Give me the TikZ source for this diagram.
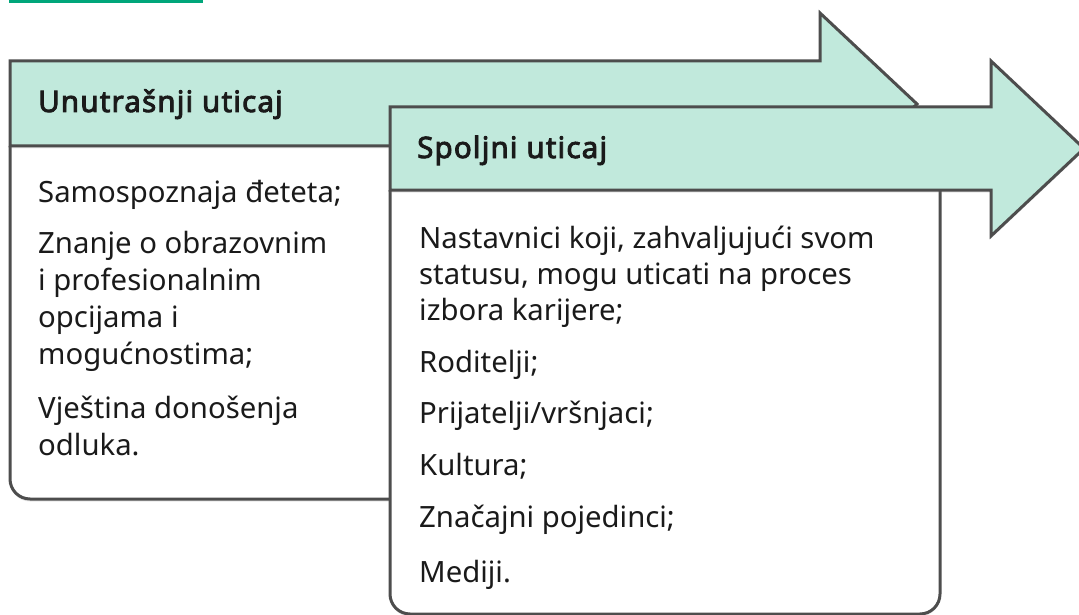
\documentclass[tikz,border=0pt]{standalone}
\usepackage{fontspec}
\setmainfont{Noto Sans}
\newfontfamily\titlefont{Noto Sans}[FakeBold=3,LetterSpace=4]
\usetikzlibrary{shadows}
\definecolor{mint}{HTML}{C1E9DC}
\definecolor{edge}{HTML}{4D4D4D}
\definecolor{topbar}{HTML}{00A67A}
\definecolor{ink}{HTML}{1A1A1A}
\begin{document}
\begin{tikzpicture}[x=1pt,y=-1pt,
  shape line/.style={draw=edge,line width=3pt,line join=miter},
  softshadow/.style={drop shadow={opacity=0.18,shadow xshift=0pt,shadow yshift=-2.5pt}},
  band/.style={shape line,fill=mint,softshadow},
  panel/.style={shape line,fill=white,softshadow},
  txt/.style={anchor=base west,inner sep=0pt,text=ink,font=\fontsize{29.3}{37}\selectfont},
  title/.style={anchor=base west,inner sep=0pt,text=ink,font=\titlefont\fontsize{29.5}{35}\selectfont}]
\useasboundingbox (0,0) rectangle (1079,615);
% top accent bar
\fill[topbar] (9,0) rectangle (203,3.5);
% first arrow: panel and band
\draw[panel] (10,146) [rounded corners=20pt]-- (10,499) [sharp corners]-- (420,499) -- (420,146);
\draw[band] (10,61) -- (820,61) -- (820,13) -- (917,104) -- (820,195) -- (820,146) -- (10,146) -- cycle;
% second arrow: panel and band
\draw[panel] (390,190) [rounded corners=20pt]-- (390,614) -- (940,614) [sharp corners]-- (940,190);
\draw[band] (390,107) -- (991,107) -- (991,61) -- (1084,148.5) -- (991,236) -- (991,190) -- (390,190) -- cycle;
% titles
\node[title] (t1) at (38,112) {Unutrašnji uticaj};
\node[title] (t2) at (417,158) {Spoljni uticaj};
% left texts
\node[txt] (a1) at (38,202) {Samospoznaja đeteta;};
\node[txt] (a2) at (38,253) {Znanje o obrazovnim};
\node[txt] (a3) at (38,290) {i profesionalnim};
\node[txt] (a4) at (38,327) {opcijama i};
\node[txt] (a5) at (38,364) {mogućnostima;};
\node[txt] (a6) at (38,418) {Vještina donošenja};
\node[txt] (a7) at (38,455) {odluka.};
% right texts
\node[txt] (b1) at (419,248) {Nastavnici koji, zahvaljujući svom};
\node[txt] (b2) at (419,284) {statusu, mogu uticati na proces};
\node[txt] (b3) at (419,320) {izbora karijere;};
\node[txt] (b4) at (419,372) {Roditelji;};
\node[txt] (b5) at (419,423) {Prijatelji/vršnjaci;};
\node[txt] (b6) at (419,475) {Kultura;};
\node[txt] (b7) at (419,527) {Značajni pojedinci;};
\node[txt] (b8) at (419,582) {Mediji.};
\end{tikzpicture}
\end{document}
